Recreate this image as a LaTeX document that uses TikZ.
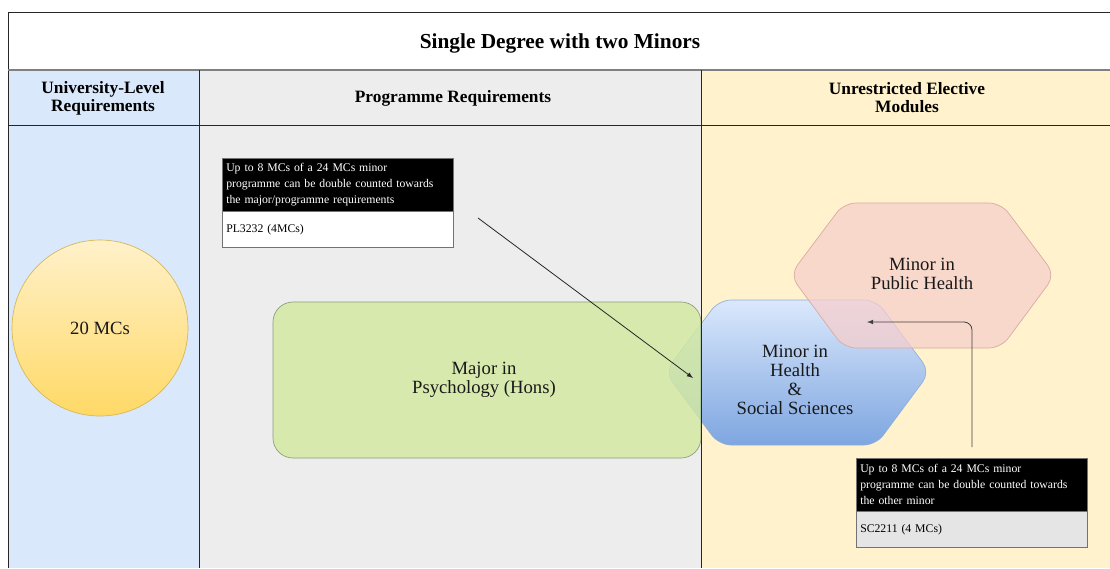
\documentclass[tikz,border=0pt]{standalone}
\usepackage{fontspec}
\setmainfont{Liberation Serif}
\usepackage{xcolor}
\usepackage{tikz}
\usetikzlibrary{shapes,arrows,calc}

\definecolor{cUniBlue}{HTML}{DAE8FC}
\definecolor{cProgGrey}{HTML}{EDEDED}
\definecolor{cElecYellow}{HTML}{FFF2CC}
\definecolor{cCircTop}{HTML}{FFF1CA}
\definecolor{cCircBot}{HTML}{FFD966}
\definecolor{cCircLine}{HTML}{D6B656}
\definecolor{cMajor}{HTML}{D3E9A0}
\definecolor{cMajorLine}{HTML}{8C9C7C}
\definecolor{cHexBlueTop}{HTML}{DAE8FC}
\definecolor{cHexBlueBot}{HTML}{7EA6E0}
\definecolor{cHexBlueLine}{HTML}{8FAED8}
\definecolor{cHexPink}{HTML}{F8CECC}
\definecolor{cHexPinkLine}{HTML}{D9A8A0}

\tikzstyle{tsHeadBold} = [
    text=black,
    font=\bfseries\fontsize{13}{13.5}\selectfont,
    align=center
]
\tikzstyle{tsTitle} = [
    text=black,
    font=\bfseries\fontsize{16}{18}\selectfont
]
\tikzstyle{tsBody} = [
    text=black!90,
    font=\rmfamily\fontsize{14}{14.3}\selectfont,
    align=center
]
\tikzstyle{tsNote} = [
    rectangle,
    anchor=north west,
    align=left,
    text width=167pt,
    inner xsep=3pt,
    inner ysep=2pt,
    draw=black!55,
    font=\fontsize{8.8}{12}\selectfont
]
\tikzstyle{tsNoteHead} = [
    tsNote,
    fill=black,
    text=white,
    minimum height=39.5pt
]
\tikzstyle{tsNoteBody} = [
    tsNote,
    text=black,
    minimum height=27pt
]
\tikzstyle{tsHexagon} = [
    rounded corners=9pt,
    line width=0.5pt
]

\begin{document}
\begin{tikzpicture}[x=0.75pt, y=-0.75pt]
        \useasboundingbox (0,0) rectangle (1110,568);

        % column backgrounds
        \fill[white] (8,12) rectangle (1110,70);
        \fill[cUniBlue] (8,70) rectangle (199,568);
        \fill[cProgGrey] (199,70) rectangle (701,568);
        \fill[cElecYellow] (701,70) rectangle (1110,568);

        \node[tsTitle] (title) at (560,43) {Single Degree with two Minors};
        \node[tsHeadBold] (hUni) at (103,98) {University-Level\\Requirements};
        \node[tsHeadBold] (hProg) at (453,98) {Programme Requirements};
        \node[tsHeadBold] (hElec) at (907,98) {Unrestricted Elective\\Modules};

        % university level
        \node[circle, minimum size=132pt, draw=cCircLine, line width=0.5pt,
              top color=cCircTop, bottom color=cCircBot,
              tsBody] (uniMC) at (100,328) {20 MCs};

        % minor in health & social sciences
        \path[tsHexagon, draw=cHexBlueLine, top color=cHexBlueTop, bottom color=cHexBlueBot]
            (665,372) -- (719,300) -- (876,300) -- (930,372) -- (876,445) -- (719,445) -- cycle;

        % major
        \node[rectangle, rounded corners=15pt, draw=cMajorLine, fill=cMajor,
              fill opacity=0.82, text opacity=1, line width=0.5pt,
              minimum width=321pt, minimum height=117pt] (major) at (487,380) {};
        \node[tsBody] (majorText) at (484,380) {Major in\\Psychology (Hons)};

        % minor in public health
        \path[tsHexagon, draw=cHexPinkLine, fill=cHexPink, fill opacity=0.72]
            (790,275) -- (844,203) -- (1001,203) -- (1055,275) -- (1001,348) -- (844,348) -- cycle;

        \node[tsBody] (minorHSS) at (795,380) {Minor in\\Health\\\&\\Social Sciences};
        \node[tsBody] (minorPH) at (922,274) {Minor in\\Public Health};

        % frame lines
        \draw[black!85, line width=0.6pt] (8,12) -- (1110,12);
        \draw[black!85, line width=0.6pt] (8,12) -- (8,568);
        \draw[black!50, line width=1.2pt] (8,70) -- (1110,70);
        \draw[black!85, line width=0.6pt] (8,125) -- (1110,125);
        \draw[black!85, line width=0.6pt] (199,70) -- (199,568);
        \draw[black!85, line width=0.6pt] (701,70) -- (701,568);

        % notes
        \node[tsNoteHead] (noteMajHead) at (222,158) {Up to 8 MCs of a 24 MCs minor\\programme can be double counted towards\\the major/programme requirements};
        \node[tsNoteBody, fill=white] (noteMajBody) at (noteMajHead.south west) {PL3232 (4MCs)};

        \node[tsNoteHead] (noteMinHead) at (856,458) {Up to 8 MCs of a 24 MCs minor\\programme can be double counted towards\\the other minor};
        \node[tsNoteBody, fill=black!10] (noteMinBody) at (noteMinHead.south west) {SC2211 (4 MCs)};

        % arrows
        \coordinate (arrMajStart) at (478,218);
        \coordinate (arrMajEnd) at (693,378);
        \coordinate (arrMinStart) at (972,447);
        \coordinate (arrMinEnd) at (867,322);

        \draw[-latex, black!85, line width=0.6pt] (arrMajStart) -- (arrMajEnd);
        \draw[-latex, black!75, line width=0.6pt, rounded corners=6pt]
            (arrMinStart) |- (arrMinEnd);

\end{tikzpicture}
\end{document}
